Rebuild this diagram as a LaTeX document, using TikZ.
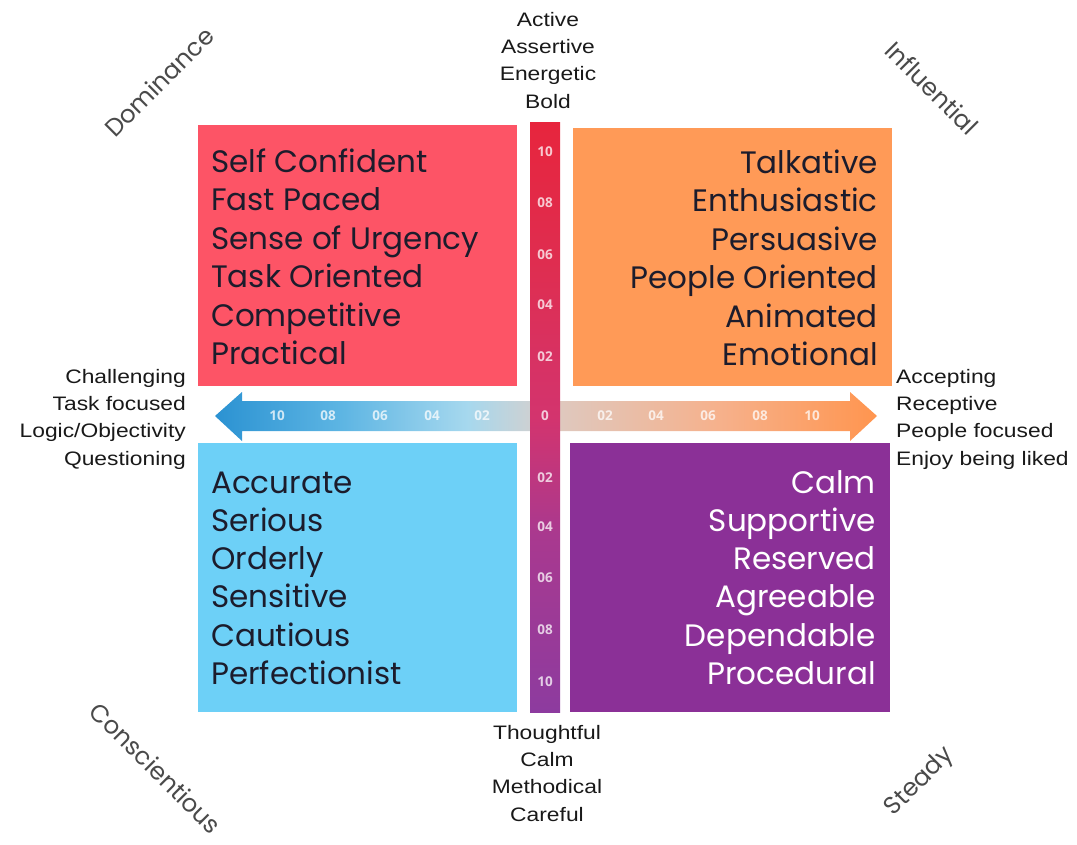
\documentclass[tikz,border=0pt]{standalone}
\usepackage{fontspec}
\setmainfont[FakeStretch=1.17]{Liberation Sans}
\newfontfamily\gothic{Poppins}
\newfontfamily\tickfont{Open Sans}

\definecolor{domred}{HTML}{FD5466}
\definecolor{infor}{HTML}{FF9A57}
\definecolor{conblue}{HTML}{6DD0F7}
\definecolor{stpurple}{HTML}{8B3097}
\definecolor{quadtext}{HTML}{1C1C2C}
\definecolor{cornergray}{HTML}{4A4A4A}

\definecolor{barbot}{HTML}{8D3B9F}
\definecolor{barlow}{HTML}{A9398F}
\definecolor{barmid}{HTML}{D3346E}
\definecolor{barhigh}{HTML}{DE2E52}
\definecolor{bartop}{HTML}{E7253D}

\definecolor{lefttip}{HTML}{2B92D2}
\definecolor{leftmid}{HTML}{5DB5E3}
\definecolor{leftlight}{HTML}{A6D8EE}
\definecolor{leftend}{HTML}{CDD1D3}

\definecolor{rightstart}{HTML}{DFC8BE}
\definecolor{rightmid}{HTML}{F6B18C}
\definecolor{righttip}{HTML}{FF954F}

% vertical scale: purple at the bottom, red at the top
\pgfdeclareverticalshading{barshade}{100bp}{color(0bp)=(barbot); color(25bp)=(barbot); color(40bp)=(barlow); color(50bp)=(barmid); color(62bp)=(barhigh); color(75bp)=(bartop); color(100bp)=(bartop)}
% left arm: deep blue at the tip, fading towards the centre
\pgfdeclarehorizontalshading{leftarm}{100bp}{color(0bp)=(lefttip); color(25bp)=(lefttip); color(45bp)=(leftmid); color(65bp)=(leftlight); color(75bp)=(leftend); color(100bp)=(leftend)}
% right arm: pale near the centre, orange at the tip
\pgfdeclarehorizontalshading{rightarm}{100bp}{color(0bp)=(rightstart); color(25bp)=(rightstart); color(50bp)=(rightmid); color(75bp)=(righttip); color(100bp)=(righttip)}

\tikzset{
  quadbox/.style={rectangle, inner sep=0pt, draw=none},
  quadword/.style={inner sep=0pt, font=\gothic\fontsize{31}{37}\selectfont, text=quadtext},
  sideword/.style={inner sep=0pt, font=\fontsize{19.5}{23}\selectfont, text=black!90},
  cornerword/.style={inner sep=0pt, font=\gothic\fontsize{24.5}{29}\selectfont, text=cornergray},
  tick/.style={inner sep=0pt, font=\tickfont\bfseries\fontsize{13.5}{15}\selectfont, text=white, text opacity=0.75},
}

\begin{document}
\begin{tikzpicture}[x=1pt,y=-1pt]
\useasboundingbox (0,0) rectangle (1077,844);

% horizontal double scale
\shade[shading=leftarm] (530,401) -- (242,401) -- (242,392) -- (215,416) -- (242,441) -- (242,431) -- (530,431) -- cycle;
\shade[shading=rightarm] (560,401) -- (850,401) -- (850,392) -- (877,416) -- (850,441) -- (850,431) -- (560,431) -- cycle;

% vertical scale
\shade[shading=barshade] (530,122) rectangle (560,712);

% tick numbers
\foreach \t/\x [count=\i] in {10/277,08/328,06/380,04/432,02/482}
  \node[tick] (lt\i) at (\x,416) {\t};
\foreach \t/\x [count=\i] in {02/605,04/656,06/708,08/760,10/812}
  \node[tick] (rt\i) at (\x,416) {\t};
\foreach \t/\y [count=\i] in {10/152,08/203,06/255,04/305,02/357}
  \node[tick] (ut\i) at (545,\y) {\t};
\foreach \t/\y [count=\i] in {02/478,04/527,06/578,08/630,10/682}
  \node[tick] (dt\i) at (545,\y) {\t};
\node[tick] (zero) at (545,416) {0};

% quadrants
\node[quadbox, fill=domred, minimum width=319pt, minimum height=261pt] (dbox) at (357.5,255.5) {};
\node[quadbox, fill=infor, minimum width=319pt, minimum height=258pt] (ibox) at (732.5,257) {};
\node[quadbox, fill=conblue, minimum width=319pt, minimum height=269pt] (cbox) at (357.5,577.5) {};
\node[quadbox, fill=stpurple, minimum width=320pt, minimum height=269pt] (sbox) at (730,577.5) {};

\foreach \w [count=\i] in {Self Confident, Fast Paced, Sense of Urgency, Task Oriented, Competitive, Practical}
  \node[quadword, anchor=base west] (dw\i) at (211,{172+38.5*(\i-1)}) {\w};
\foreach \w [count=\i] in {Talkative, Enthusiastic, Persuasive, People Oriented, Animated, Emotional}
  \node[quadword, anchor=base east] (iw\i) at (878,{173+38.5*(\i-1)}) {\w};
\foreach \w [count=\i] in {Accurate, Serious, Orderly, Sensitive, Cautious, Perfectionist}
  \node[quadword, anchor=base west] (cw\i) at (211,{493+38.3*(\i-1)}) {\w};
\foreach \w [count=\i] in {Calm, Supportive, Reserved, Agreeable, Dependable, Procedural}
  \node[quadword, anchor=base east, text=white] (sw\i) at (876,{493+38.3*(\i-1)}) {\w};

% axis descriptions
\foreach \w [count=\i] in {Active, Assertive, Energetic, Bold}
  \node[sideword, anchor=base] (top\i) at (548,{26+27.4*(\i-1)}) {\w};
\foreach \w [count=\i] in {Thoughtful, Calm, Methodical, Careful}
  \node[sideword, anchor=base] (bot\i) at (547,{739+27.4*(\i-1)}) {\w};
\foreach \w [count=\i] in {Challenging, Task focused, Logic/Objectivity, Questioning}
  \node[sideword, anchor=base east] (lft\i) at (186,{383+27.4*(\i-1)}) {\w};
\foreach \w [count=\i] in {Accepting, Receptive, People focused, Enjoy being liked}
  \node[sideword, anchor=base west] (rgt\i) at (896,{383+27.4*(\i-1)}) {\w};

% corner names
\node[cornerword, rotate=45] (dname) at (159,82) {Dominance};
\node[cornerword, rotate=-45] (iname) at (932,88) {Influential};
\node[cornerword, rotate=-45] (cname) at (156,768) {Conscientious};
\node[cornerword, rotate=45] (sname) at (920,782) {Steady};
\end{tikzpicture}
\end{document}
